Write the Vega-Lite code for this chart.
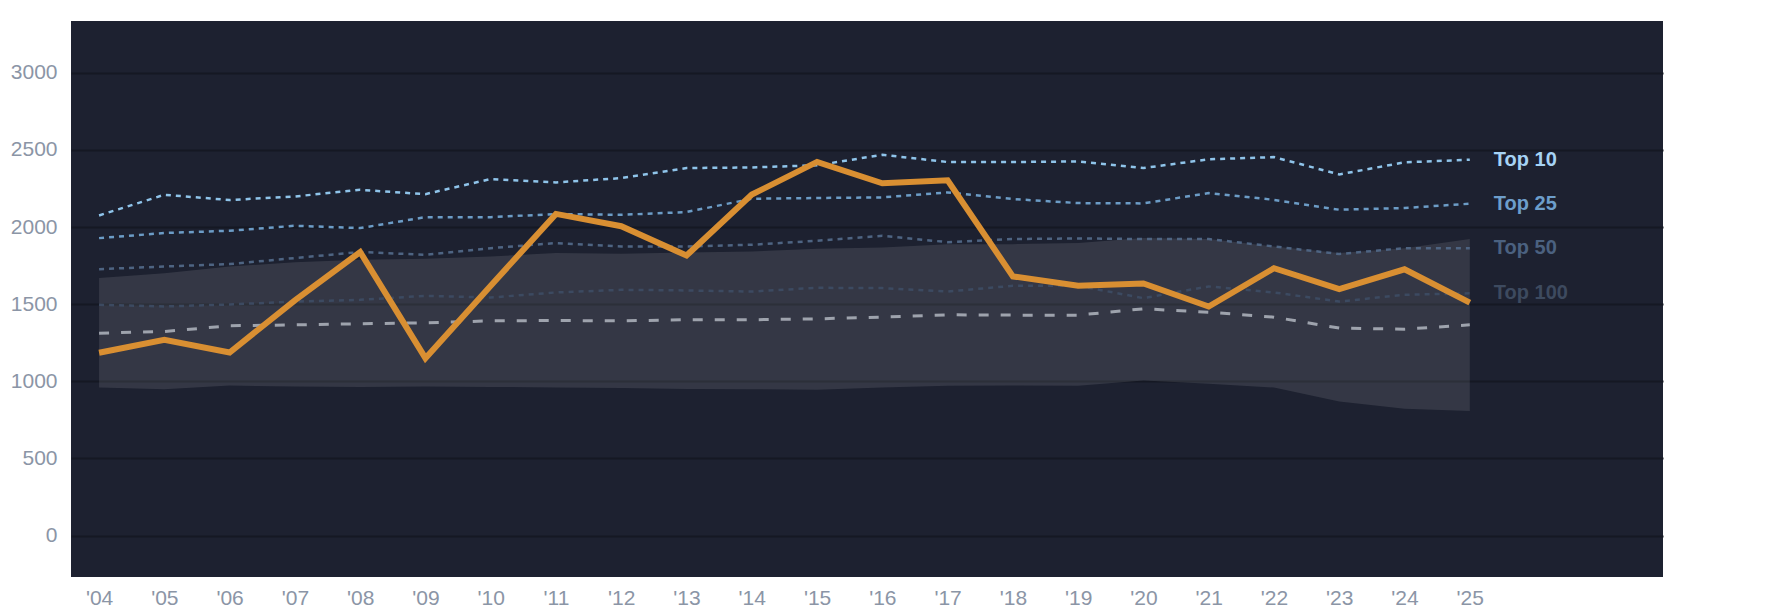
{
  "$schema": "https://vega.github.io/schema/vega-lite/v6.json",
  "autosize": {"type": "none"},
  "padding": {"left": 71, "top": 21, "right": 122, "bottom": 37},
  "width": 1592,
  "height": 556,
  "background": "#ffffff",
  "config": {
    "font": "Liberation Sans",
    "view": {"fill": "#1d2130", "stroke": null},
    "axis": {
      "labelFont": "Liberation Sans",
      "labelFontSize": 21,
      "labelColor": "#8b95a6",
      "domain": false,
      "ticks": false,
      "tickSize": 0,
      "title": null
    }
  },
  "data": {
    "values": [
      {"year": 2004, "value": 1185, "Top 10": 2075, "Top 25": 1928, "Top 50": 1727, "Top 100": 1496, "median": 1312, "lo": 960, "hi": 1669},
      {"year": 2005, "value": 1269, "Top 10": 2209, "Top 25": 1961, "Top 50": 1744, "Top 100": 1485, "median": 1323, "lo": 949, "hi": 1701},
      {"year": 2006, "value": 1187, "Top 10": 2175, "Top 25": 1976, "Top 50": 1760, "Top 100": 1498, "median": 1360, "lo": 973, "hi": 1744},
      {"year": 2007, "value": 1525, "Top 10": 2198, "Top 25": 2008, "Top 50": 1799, "Top 100": 1517, "median": 1366, "lo": 966, "hi": 1772},
      {"year": 2008, "value": 1838, "Top 10": 2241, "Top 25": 1993, "Top 50": 1838, "Top 100": 1528, "median": 1373, "lo": 964, "hi": 1788},
      {"year": 2009, "value": 1150, "Top 10": 2213, "Top 25": 2064, "Top 50": 1820, "Top 100": 1554, "median": 1379, "lo": 966, "hi": 1795},
      {"year": 2010, "value": 1620, "Top 10": 2311, "Top 25": 2064, "Top 50": 1863, "Top 100": 1543, "median": 1392, "lo": 964, "hi": 1809},
      {"year": 2011, "value": 2085, "Top 10": 2289, "Top 25": 2084, "Top 50": 1896, "Top 100": 1576, "median": 1394, "lo": 960, "hi": 1831},
      {"year": 2012, "value": 2005, "Top 10": 2317, "Top 25": 2079, "Top 50": 1874, "Top 100": 1593, "median": 1392, "lo": 956, "hi": 1827},
      {"year": 2013, "value": 1815, "Top 10": 2382, "Top 25": 2097, "Top 50": 1874, "Top 100": 1589, "median": 1399, "lo": 951, "hi": 1835},
      {"year": 2014, "value": 2210, "Top 10": 2386, "Top 25": 2183, "Top 50": 1885, "Top 100": 1582, "median": 1399, "lo": 949, "hi": 1842},
      {"year": 2015, "value": 2422, "Top 10": 2400, "Top 25": 2188, "Top 50": 1911, "Top 100": 1606, "median": 1405, "lo": 945, "hi": 1859},
      {"year": 2016, "value": 2283, "Top 10": 2468, "Top 25": 2192, "Top 50": 1943, "Top 100": 1604, "median": 1416, "lo": 960, "hi": 1868},
      {"year": 2017, "value": 2303, "Top 10": 2421, "Top 25": 2224, "Top 50": 1902, "Top 100": 1582, "median": 1431, "lo": 971, "hi": 1889},
      {"year": 2018, "value": 1680, "Top 10": 2421, "Top 25": 2181, "Top 50": 1922, "Top 100": 1619, "median": 1429, "lo": 973, "hi": 1889},
      {"year": 2019, "value": 1619, "Top 10": 2425, "Top 25": 2155, "Top 50": 1926, "Top 100": 1619, "median": 1429, "lo": 971, "hi": 1896},
      {"year": 2020, "value": 1634, "Top 10": 2382, "Top 25": 2153, "Top 50": 1922, "Top 100": 1539, "median": 1470, "lo": 1005, "hi": 1928},
      {"year": 2021, "value": 1485, "Top 10": 2439, "Top 25": 2220, "Top 50": 1922, "Top 100": 1615, "median": 1448, "lo": 984, "hi": 1922},
      {"year": 2022, "value": 1733, "Top 10": 2453, "Top 25": 2176, "Top 50": 1874, "Top 100": 1576, "median": 1416, "lo": 960, "hi": 1874},
      {"year": 2023, "value": 1598, "Top 10": 2341, "Top 25": 2112, "Top 50": 1825, "Top 100": 1517, "median": 1345, "lo": 869, "hi": 1831},
      {"year": 2024, "value": 1726, "Top 10": 2419, "Top 25": 2123, "Top 50": 1863, "Top 100": 1561, "median": 1338, "lo": 822, "hi": 1863},
      {"year": 2025, "value": 1510, "Top 10": 2436, "Top 25": 2151, "Top 50": 1863, "Top 100": 1570, "median": 1366, "lo": 808, "hi": 1922}
    ]
  },
  "encoding": {
    "x": {
      "field": "year",
      "type": "quantitative",
      "scale": {"domain": [2003.57, 2027.96], "nice": false, "zero": false},
      "axis": {
        "values": [2004, 2005, 2006, 2007, 2008, 2009, 2010, 2011, 2012, 2013, 2014, 2015, 2016, 2017, 2018, 2019, 2020, 2021, 2022, 2023, 2024, 2025],
        "labelExpr": "\"'\" + substring(toString(datum.value), 2)",
        "grid": false,
        "labelPadding": 10,
        "labelFlush": false,
        "labelOverlap": false
      }
    }
  },
  "layer": [
    {
      "mark": {"type": "area", "fill": "#ffffff", "opacity": 0.1},
      "encoding": {
        "y": {
          "field": "hi",
          "type": "quantitative",
          "scale": {"domain": [-268, 3335], "nice": false, "zero": false},
          "axis": {
            "values": [0, 500, 1000, 1500, 2000, 2500, 3000],
            "format": "d",
            "grid": true,
            "gridColor": "#151823",
            "gridWidth": 2,
            "labelPadding": 14
          }
        },
        "y2": {"field": "lo"}
      }
    },
    {
      "mark": {"type": "line", "stroke": "#3c4a61", "strokeWidth": 2.5, "strokeDash": [5, 5]},
      "encoding": {"y": {"field": "Top 100", "type": "quantitative"}}
    },
    {
      "mark": {"type": "line", "stroke": "#4e6482", "strokeWidth": 2.5, "strokeDash": [5, 5]},
      "encoding": {"y": {"field": "Top 50", "type": "quantitative"}}
    },
    {
      "mark": {"type": "line", "stroke": "#6c9cc6", "strokeWidth": 2.5, "strokeDash": [5, 5]},
      "encoding": {"y": {"field": "Top 25", "type": "quantitative"}}
    },
    {
      "mark": {"type": "line", "stroke": "#8fc4ea", "strokeWidth": 2.5, "strokeDash": [5, 5]},
      "encoding": {"y": {"field": "Top 10", "type": "quantitative"}}
    },
    {
      "mark": {"type": "line", "stroke": "#9ea3ad", "strokeWidth": 3, "strokeDash": [10, 12]},
      "encoding": {"y": {"field": "median", "type": "quantitative"}}
    },
    {
      "mark": {"type": "line", "stroke": "#d98f32", "strokeWidth": 6},
      "encoding": {"y": {"field": "value", "type": "quantitative"}}
    },
    {
      "transform": [
        {"fold": ["Top 10", "Top 25", "Top 50", "Top 100"], "as": ["series", "v"]},
        {"filter": "datum.year == 2025"}
      ],
      "mark": {"type": "text", "align": "left", "baseline": "middle", "dx": 24, "fontSize": 20, "fontWeight": "bold"},
      "encoding": {
        "y": {"field": "v", "type": "quantitative"},
        "text": {"field": "series"},
        "color": {
          "field": "series",
          "type": "nominal",
          "scale": {"domain": ["Top 10", "Top 25", "Top 50", "Top 100"], "range": ["#a6d3f5", "#6d9ecb", "#4b6180", "#3d4a5f"]},
          "legend": null
        }
      }
    }
  ]
}
